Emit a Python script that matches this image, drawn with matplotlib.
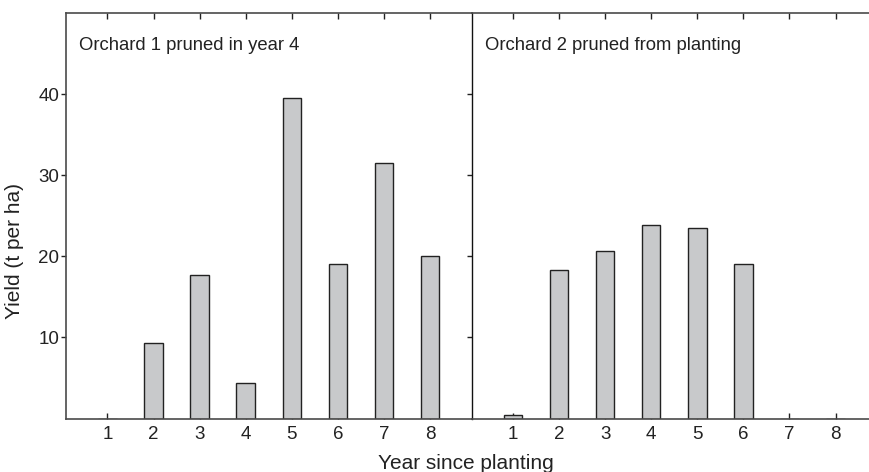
import numpy as np
import matplotlib.pyplot as plt

plt.rcParams["font.family"] = ["Liberation Sans", "DejaVu Sans"]

years = [1, 2, 3, 4, 5, 6, 7, 8]
orchard1 = [0.0, 9.3, 17.7, 4.35, 39.5, 19.1, 31.5, 20.0]
orchard2 = [0.5, 18.35, 20.65, 23.9, 23.5, 19.0, 0.0, 0.0]
titles = ["Orchard 1 pruned in year 4", "Orchard 2 pruned from planting"]
yticks = [10, 20, 30, 40]

fig = plt.figure(figsize=(8.69, 4.72), dpi=100)
w = 405.5 / 869
ax1 = fig.add_axes([66 / 869, 1 - 418.6 / 472, w, 405.6 / 472])
ax2 = fig.add_axes([471.5 / 869, 1 - 418.6 / 472, w, 405.6 / 472])

txt = "#222222"
spine_col = "#4a4a4a"
for ax, vals, title in [(ax1, orchard1, titles[0]), (ax2, orchard2, titles[1])]:
    ax.bar(years, vals, width=0.4, color="#c8c9cb", edgecolor="#222222", linewidth=1.0, zorder=2)
    ax.set_xlim(0.1, 8.9)
    ax.set_ylim(0, 50)
    ax.set_xticks(years)
    ax.set_yticks(yticks)
    ax.tick_params(axis="x", direction="in", top=True, length=4, width=1,
                   color="#222222", labelsize=13.5, pad=5, labelcolor=txt)
    ax.tick_params(axis="y", direction="out", length=3.5, width=1,
                   color="#222222", labelsize=13.5, pad=1.5, labelcolor=txt)
    for s in ax.spines.values():
        s.set_color(spine_col)
        s.set_linewidth(1.2)
    ax.text(0.033, 0.921, title, transform=ax.transAxes, va="center", ha="left",
            fontsize=13.3, color=txt)

ax1.spines["right"].set_visible(False)
ax2.spines["right"].set_visible(False)
ax2.spines["left"].set_color("#111111")
ax2.spines["left"].set_linewidth(1.0)
ax2.tick_params(axis="y", labelleft=False)

fig.text(15 / 869, 1 - 251 / 472, "Yield (t per ha)", rotation=90, ha="center", va="center",
         fontsize=15, color=txt)
fig.text(466 / 869, 1 - 469 / 472, "Year since planting", ha="center", va="baseline",
         fontsize=15, color=txt)

fig.savefig("out.png", dpi=100)
